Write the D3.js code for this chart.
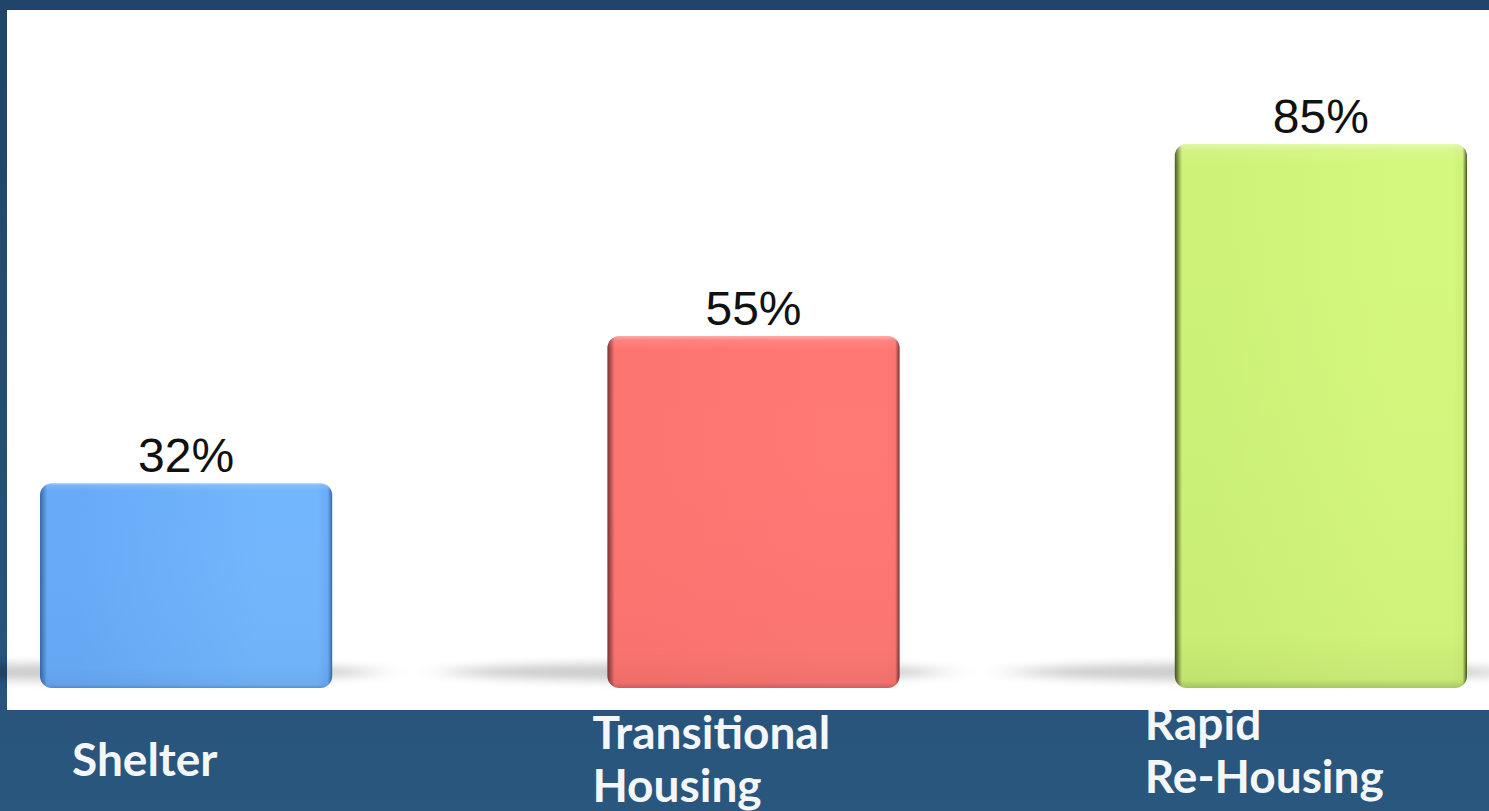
<!DOCTYPE html>
<html><head><meta charset="utf-8">
<script src="https://cdn.jsdelivr.net/npm/d3@7"></script>
<style>html,body{margin:0;padding:0;overflow:hidden;background:#254e75}</style>
</head><body><svg id="c" width="1489" height="811"></svg>
<script>
// ---- data ----
const categories = ["Shelter", "Transitional Housing", "Rapid Re-Housing"];
const categoryLines = [["Shelter"], ["Transitional", "Housing"], ["Rapid", "Re-Housing"]];
const values = [32, 55, 85];
const valueLabels = ["32%", "55%", "85%"];
const barColors = [
  {edge: "#3a68a6", mid: "#68aaf7", light: "#72b6fd"},
  {edge: "#7c3232", mid: "#fd7571", light: "#ff7874"},
  {edge: "#46561c", mid: "#cdf277", light: "#d4f77d"}
];

// ---- drawing ----
const W = 1489, H = 811;
const svg = d3.select("#c");
const defs = svg.append("defs");

const bg = defs.append("linearGradient").attr("id", "bg").attr("x1", 0).attr("y1", 0).attr("x2", 0).attr("y2", 1);
bg.append("stop").attr("offset", "0%").attr("stop-color", "#20446a");
bg.append("stop").attr("offset", "100%").attr("stop-color", "#2a577e");
svg.append("rect").attr("width", W).attr("height", H).attr("fill", "url(#bg)");

const x = d3.scaleBand().domain(categories).range([40, 1467]).paddingInner(0.485).paddingOuter(0);
const y = d3.scaleLinear().domain([0, 100]).range([688, 48]);

// category labels (drawn beneath the white panel, as in the reference)
const labelDx = [32, -15, -30];
const labelBase = [776, 749, 740];
const lineGap = 53;
const lab = svg.append("g").attr("font-family", "Lato, 'Open Sans', sans-serif")
  .attr("font-weight", "bold").attr("font-size", 46).attr("fill", "#f4f6f8");
categories.forEach((c, i) => {
  const t = lab.append("text").attr("x", x(c) + labelDx[i]).attr("y", labelBase[i]);
  categoryLines[i].forEach((ln, j) => {
    t.append("tspan").attr("x", x(c) + labelDx[i]).attr("y", labelBase[i] + j * lineGap).text(ln);
  });
});

// white plot panel
svg.append("rect").attr("x", 7).attr("y", 10).attr("width", W - 7).attr("height", 700).attr("fill", "#ffffff");

// shadow filter
const f = defs.append("filter").attr("id", "blur").attr("x", "-50%").attr("y", "-300%").attr("width", "200%").attr("height", "700%");
f.append("feGaussianBlur").attr("stdDeviation", "22 5");

// gradients per bar
barColors.forEach((col, i) => {
  const g = defs.append("linearGradient").attr("id", "bar" + i).attr("x1", 0).attr("x2", 1).attr("y1", 0).attr("y2", 0);
  [[0, col.edge], [0.025, col.mid], [0.12, col.mid], [0.75, col.light], [0.95, col.light], [0.985, col.mid], [1, col.edge]]
    .forEach(s => g.append("stop").attr("offset", s[0]).attr("stop-color", s[1]));
});
const ov = defs.append("linearGradient").attr("id", "vshade").attr("x1", 0).attr("x2", 0).attr("y1", 0).attr("y2", 1);
[[0, "#ffffff", 0.4], [0.012, "#ffffff", 0.1], [0.04, "#ffffff", 0.0], [0.9, "#000000", 0.02], [0.985, "#000000", 0.06], [1, "#000000", 0.2]]
  .forEach(s => ov.append("stop").attr("offset", s[0]).attr("stop-color", s[1]).attr("stop-opacity", s[2]));

const bw = x.bandwidth();

// floor shadows
svg.append("g").selectAll("ellipse").data(categories).join("ellipse")
  .attr("cx", c => x(c) + bw * 0.3)
  .attr("cy", y(0) - 16)
  .attr("rx", bw * 0.85)
  .attr("ry", 9)
  .attr("fill", "#000")
  .attr("opacity", 0.2)
  .attr("filter", "url(#blur)");

const bars = svg.append("g");
bars.selectAll("rect.bar").data(values).join("rect").attr("class", "bar")
  .attr("x", (d, i) => x(categories[i]))
  .attr("y", d => y(d))
  .attr("width", bw)
  .attr("height", d => y(0) - y(d))
  .attr("rx", 12)
  .attr("fill", (d, i) => `url(#bar${i})`);
bars.selectAll("rect.ov").data(values).join("rect").attr("class", "ov")
  .attr("x", (d, i) => x(categories[i]))
  .attr("y", d => y(d))
  .attr("width", bw)
  .attr("height", d => y(0) - y(d))
  .attr("rx", 12)
  .attr("fill", "url(#vshade)");

// value labels
svg.append("g").selectAll("text").data(values).join("text")
  .attr("x", (d, i) => x(categories[i]) + bw / 2)
  .attr("y", d => y(d) - 11)
  .attr("text-anchor", "middle")
  .attr("font-family", "'Liberation Sans', Arial, sans-serif")
  .attr("font-size", 48)
  .attr("fill", "#111111")
  .text((d, i) => valueLabels[i]);
</script>
</body></html>
